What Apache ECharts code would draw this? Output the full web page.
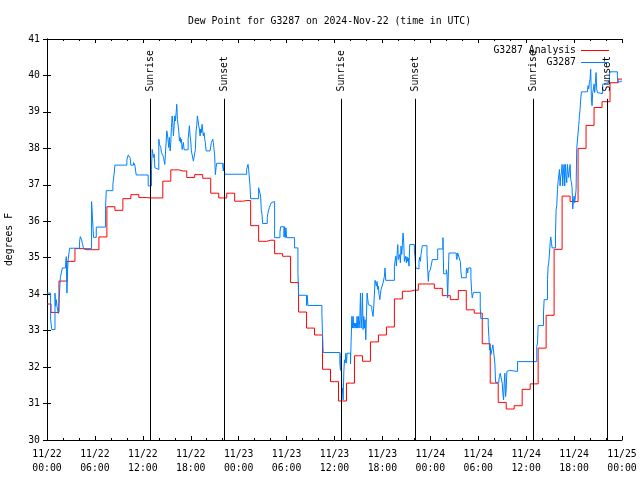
<!DOCTYPE html>
<html>
<head>
<meta charset="utf-8">
<script src="https://cdn.jsdelivr.net/npm/echarts@6/dist/echarts.min.js"></script>
<style>html,body{margin:0;padding:0;background:#fff;}#c{width:640px;height:480px;}</style>
</head>
<body>
<div id="c"></div>
<script>
// ---- data (hours since 2024-11-22 00:00 UTC) ----
const titleText = 'Dew Point for G3287 on 2024-Nov-22 (time in UTC)';
const yName = 'degrees F';
const seriesNames = ['G3287 Analysis', 'G3287'];
const startDay = 22;
const tickHours = [0, 6, 12, 18, 24, 30, 36, 42, 48, 54, 60, 66, 72];

// hourly analysis values, hour 0..72
const analysisValues = [33.73,33.5,34.36,34.9,35.25,35.22,35.22,35.57,36.4,36.3,36.62,36.73,36.65,36.64,36.64,37.1,37.41,37.38,37.2,37.28,37.18,36.77,36.64,36.77,36.55,36.57,35.88,35.45,35.48,35.11,35.04,34.32,33.51,33.07,32.88,31.94,31.6,31.07,31.56,32.31,32.16,32.69,32.88,33.1,33.87,34.08,34.11,34.28,34.28,34.16,33.96,33.85,34.1,33.57,33.48,32.64,31.56,31.03,30.85,30.94,31.39,31.54,32.52,33.42,35.23,36.69,36.54,38.0,38.63,39.12,39.28,39.8,39.9];

// observations [hour, value]
const obsPoints = [[0,34.03],[0.45,33.3],[0.6,33.03],[1.0,34.03],[1.08,33.67],[1.17,33.85],[1.25,33.67],[1.42,33.47],[1.67,34.45],[1.92,34.72],[2.33,34.85],[2.42,35.03],[2.5,34.03],[2.58,34.67],[2.67,34.99],[2.83,35.26],[3.33,35.31],[3.5,35.26],[4.08,35.45],[4.17,35.58],[4.25,35.63],[4.33,35.49],[4.42,35.4],[4.58,35.25],[5.58,36.54],[5.83,35.56],[6.17,35.84],[7.33,36.36],[7.42,36.84],[7.83,36.88],[8.0,36.84],[8.25,37.02],[8.42,37.32],[8.5,37.54],[9.0,37.59],[9.17,37.54],[9.5,37.59],[9.67,37.54],[10.0,37.68],[10.17,37.82],[10.42,37.73],[10.5,37.54],[10.83,37.61],[11.0,37.54],[11.17,37.27],[11.58,37.32],[11.83,37.27],
[12.67,36.97],[13.08,37.42],[13.17,37.97],[13.25,38.02],[13.33,37.75],[13.42,37.84],[13.5,37.47],[13.58,37.52],[13.67,37.42],[14.0,38.25],[14.08,38.11],[14.17,38.16],[14.25,38.02],[14.33,37.88],[14.5,37.81],[14.58,37.75],[14.67,37.79],[14.75,37.56],[15.0,38.48],[15.08,38.39],[15.17,38.2],[15.25,38.02],[15.33,38.3],[15.42,37.93],[15.5,38.16],[15.58,38.57],[15.67,38.89],[15.75,38.71],[15.83,38.34],[15.92,38.62],[16.0,38.89],[16.08,38.75],[16.17,38.98],[16.25,39.21],[16.33,38.8],[16.42,38.75],[16.5,38.48],[16.58,38.2],[16.67,38.3],[16.75,38.16],[16.83,38.25],[16.92,37.97],[17.0,38.07],[17.08,38.16],[17.17,37.96],[17.67,38.25],[17.75,38.43],[17.83,38.62],[17.92,38.34],[18.0,38.2],[18.08,37.93],[18.17,37.88],[18.33,37.65],[18.58,37.97],[18.67,38.48],[18.75,38.62],[18.83,38.89],[18.92,38.94],[19.0,38.62],[19.08,38.53],[19.17,38.34],[19.25,38.53],[19.33,38.43],[19.42,38.66],[19.5,38.48],[19.58,38.34],[19.67,38.43],[19.75,38.25],[19.83,38.16],[19.92,37.93],[20.42,37.97],[20.5,37.93],[20.58,38.16],[20.67,38.2],[20.75,38.25],[20.83,38.16],[20.92,37.97],[21.0,37.79],[21.08,37.28],[21.17,37.47],[21.25,37.59],[22.0,37.52],[22.08,37.38],[22.17,37.59],[22.25,37.29],
[25.0,37.43],[25.17,37.56],[25.25,37.43],[25.42,36.97],[25.5,36.62],[26.5,36.92],[26.75,36.69],[26.83,36.32],[26.92,36.19],[27.0,35.94],[27.58,36.1],[27.67,36.23],[27.83,36.37],[28.08,36.51],[28.17,36.54],[28.5,35.55],[29.17,35.7],[29.25,35.85],[29.67,35.57],[29.75,35.85],[29.83,35.55],[29.92,35.82],[30.0,35.55],[31.0,35.27],[31.42,34.6],[31.5,33.97],[32.5,33.69],[32.58,33.97],[32.67,33.69],[34.42,33.48],[34.5,32.89],[34.58,32.4],
[36.67,32.11],[36.75,31.91],[36.83,32.38],[36.92,31.28],[37.0,31.42],[37.08,31.1],[37.17,31.88],[37.25,32.2],[37.33,32.11],[37.42,32.38],[37.5,32.11],[37.58,32.38],[38.0,32.09],[38.08,32.7],[38.17,33.39],[38.25,33.07],[38.33,33.39],[38.42,33.07],[38.5,33.21],[38.58,33.07],[38.67,33.21],[38.75,33.07],[38.83,33.39],[38.92,33.07],[39.0,33.39],[39.08,33.07],[39.17,33.3],[39.25,34.03],[39.33,33.07],[39.42,33.39],[39.5,34.03],[39.58,33.03],[39.67,33.39],[39.75,33.07],[39.83,33.3],[39.92,32.75],[40.0,33.39],[40.08,34.03],[40.17,33.85],[40.25,33.71],[40.42,33.76],[40.5,33.67],[40.67,33.58],[40.83,33.39],[40.92,33.67],[41.08,34.38],[41.25,34.22],[41.33,34.35],[41.42,34.13],[41.5,34.22],[41.58,33.99],[41.67,33.85],[41.75,33.99],[41.83,34.13],[42.0,34.17],[42.08,34.31],[42.25,34.49],[42.33,34.72],[42.42,34.38],[43.5,34.77],[43.58,34.9],[43.67,35.04],[43.75,34.77],[43.83,35.09],[43.92,35.36],[44.0,34.95],[44.08,34.9],[44.17,35.09],[44.25,34.86],[44.33,35.32],[44.42,35.09],[44.5,35.36],[44.58,35.68],[44.67,35.41],[44.75,34.9],[44.83,34.86],[44.92,35.04],[45.0,34.86],[45.08,35.02],[45.17,34.9],[45.25,34.99],[45.33,34.77],[45.42,35.36],[46.0,35.18],[46.08,35.04],[46.17,34.72],[46.25,34.69],[46.58,34.9],[46.67,35.02],[46.75,34.9],[46.83,35.09],[47.0,35.33],[47.58,35.09],[47.67,34.67],[47.75,34.35],[47.83,34.6],[48.0,34.67],[48.17,34.86],[48.25,34.95],[48.92,35.24],[49.58,35.55],[49.67,34.56],[50.0,34.67],[50.08,34.58],[50.17,33.9],[50.33,35.13],[51.25,35.04],[51.33,34.95],[51.42,35.13],[51.67,35.09],[51.75,34.9],[51.83,34.63],[51.92,34.45],[52.5,34.63],[52.58,34.72],[52.67,34.58],[52.75,34.72],[53.08,34.45],[53.17,34.08],[53.25,33.9],[53.33,33.99],[53.42,34.05],[54.25,33.62],[54.33,33.33],[55.25,33.16],[55.33,32.84],[55.42,32.47],[55.5,32.55],[55.58,32.34],[55.67,32.29],[55.75,32.52],[55.83,32.61],[56.0,32.58],[56.08,32.11],[56.17,31.58],[56.58,31.65],[56.67,31.74],[56.75,31.83],[56.83,31.88],[56.92,31.83],[57.0,31.56],[57.08,31.28],[57.17,31.1],[57.25,31.56],[57.33,31.83],[57.42,31.19],[57.5,31.38],[57.58,31.88],[57.75,31.91],[57.92,31.88],[58.92,32.15],
[61.33,32.57],[61.42,32.66],[61.5,33.14],[62.17,33.48],[62.25,33.85],[62.67,34.4],[62.75,34.77],[62.83,34.86],[62.92,35.13],[63.0,35.41],[63.08,35.57],[63.17,35.41],[63.25,35.27],[63.67,35.64],[63.75,36.32],[63.83,36.42],[63.92,36.87],[64.0,37.1],[64.08,37.06],[64.17,37.42],[64.25,36.97],[64.33,37.24],[64.42,37.33],[64.5,37.56],[64.58,36.97],[64.67,37.38],[64.75,37.56],[64.83,36.97],[64.92,37.56],[65.0,37.24],[65.08,37.06],[65.17,37.56],[65.25,37.33],[65.33,37.2],[65.42,37.42],[65.5,37.56],[65.58,37.15],[65.67,37.06],[65.75,36.92],[65.83,36.34],[65.92,36.55],[66.0,36.69],[66.08,36.51],[66.17,36.69],[66.25,36.87],[66.33,37.99],[66.58,38.62],[66.67,38.89],[66.75,39.07],[66.83,39.35],[66.92,39.55],[67.67,39.55],[67.75,39.72],[67.83,39.63],[67.92,39.81],[68.0,39.9],[68.08,40.17],[68.17,39.35],[68.25,39.17],[68.33,39.53],[68.42,39.63],[68.5,39.76],[68.58,39.53],[68.67,39.81],[68.75,40.08],[68.83,39.63],[68.92,39.53],[69.08,39.5],[69.58,39.76],[69.67,39.81],[70.42,39.99],[70.5,40.1],[71.42,39.99],[71.5,39.81],[71.67,39.85],[72,39.85]];

// sunrise / sunset events
const sunHours = [12.93, 22.19, 36.87, 46.13, 60.9, 70.17];
const sunLabels = ['Sunrise', 'Sunset', 'Sunrise', 'Sunset', 'Sunrise', 'Sunset'];
const sunLineTop = 39.36;
const sunLabelBase = 39.56;

// ---- chart ----
const FONT = 'DejaVu Sans Mono';
const FS = 9.8;
const chart = echarts.init(document.getElementById('c'), null, {renderer: 'canvas'});

function fmtTick(h) {
  const d = startDay + Math.floor(h / 24);
  const hh = h % 24;
  return '11/' + d + '\n' + (hh < 10 ? '0' : '') + hh + ':00';
}

const xCommon = {
  type: 'value', min: 0, max: 72, interval: 6,
  axisLine: {show: true, lineStyle: {color: '#000', width: 1}},
  axisTick: {show: true, inside: true, length: 4, lineStyle: {color: '#000'}},
  minorTick: {show: true, splitNumber: 3, length: 2, lineStyle: {color: '#000'}},
  splitLine: {show: false}
};
const yCommon = {
  type: 'value', min: 30, max: 41, interval: 1,
  axisLine: {show: true, lineStyle: {color: '#000', width: 1}},
  axisTick: {show: true, inside: true, length: 4, lineStyle: {color: '#000'}},
  splitLine: {show: false}
};

const option = {
  animation: false,
  backgroundColor: '#fff',
  textStyle: {fontFamily: FONT, fontSize: FS, color: '#000'},
  title: {
    text: titleText, left: 188, top: 16, padding: 0,
    textStyle: {fontFamily: FONT, fontSize: FS, fontWeight: 'normal', color: '#000'}
  },
  legend: {
    data: [
      {name: seriesNames[0], icon: 'rect', itemStyle: {color: '#ff0000'}},
      {name: seriesNames[1], icon: 'rect', itemStyle: {color: '#0080ff'}}
    ],
    orient: 'vertical', right: 26, top: 40, align: 'right',
    itemWidth: 28, itemHeight: 1, itemGap: 1,
    textStyle: {fontFamily: FONT, fontSize: FS, color: '#000', lineHeight: 11},
    selectedMode: false
  },
  grid: {left: 47, right: 18, top: 39, bottom: 40, containLabel: false, outerBoundsMode: 'none'},
  xAxis: [
    Object.assign({}, xCommon, {
      position: 'bottom',
      axisLabel: {show: true, margin: 7, fontFamily: FONT, fontSize: FS, color: '#000', lineHeight: 14,
        formatter: v => (tickHours.indexOf(v) >= 0 ? fmtTick(v) : '')}
    }),
    Object.assign({}, xCommon, {position: 'top', axisLabel: {show: false}})
  ],
  yAxis: [
    Object.assign({}, yCommon, {
      position: 'left',
      name: yName, nameLocation: 'middle', nameGap: 33, nameRotate: 90,
      nameTextStyle: {fontFamily: FONT, fontSize: FS, color: '#000'},
      axisLabel: {show: true, margin: 7, fontFamily: FONT, fontSize: FS, color: '#000'}
    }),
    Object.assign({}, yCommon, {position: 'right', axisLabel: {show: false}})
  ],
  series: [
    {
      name: seriesNames[0], type: 'line', step: 'middle',
      data: analysisValues.map((v, i) => [i, v]),
      symbol: 'none', showSymbol: false,
      lineStyle: {color: '#ff0000', width: 1}, itemStyle: {color: '#ff0000'},
      z: 3,
      markLine: {
        silent: true, symbol: ['none', 'none'], animation: false,
        label: {show: false},
        lineStyle: {color: '#000', width: 1, type: 'solid'},
        data: sunHours.map(h => [{coord: [h, sunLineTop]}, {coord: [h, 30]}])
      }
    },
    {
      name: seriesNames[1], type: 'line', step: 'end',
      data: obsPoints,
      symbol: 'none', showSymbol: false,
      lineStyle: {color: '#0080ff', width: 1}, itemStyle: {color: '#0080ff'},
      z: 4
    },
    {
      name: 'sun', type: 'scatter', symbolSize: 0, silent: true,
      itemStyle: {opacity: 1, color: '#000'},
      data: sunHours.map(h => [h, sunLabelBase]),
      label: {
        show: true, position: 'inside', rotate: 90, align: 'left', verticalAlign: 'middle',
        fontFamily: FONT, fontSize: FS, color: '#000', opacity: 1,
        formatter: p => sunLabels[p.dataIndex]
      },
      z: 5
    }
  ]
};
chart.setOption(option);
</script>
</body>
</html>
